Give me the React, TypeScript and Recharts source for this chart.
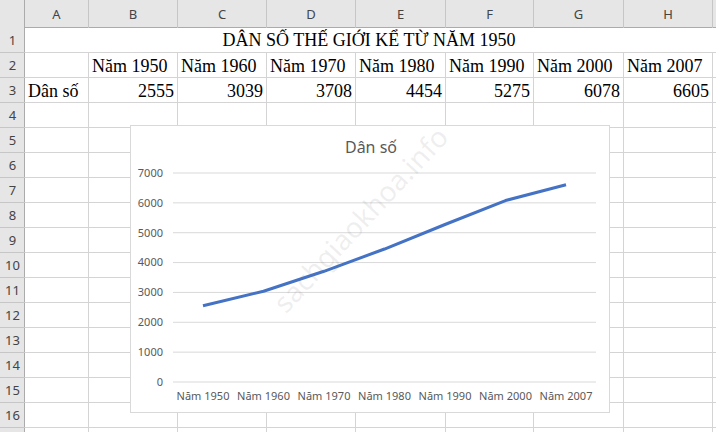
import { LineChart, Line, XAxis, YAxis, CartesianGrid } from "recharts";

const years = ["Năm 1950", "Năm 1960", "Năm 1970", "Năm 1980", "Năm 1990", "Năm 2000", "Năm 2007"];
const population = [2555, 3039, 3708, 4454, 5275, 6078, 6605];
const yTicks = [0, 1000, 2000, 3000, 4000, 5000, 6000, 7000];
const columnLetters = ["A", "B", "C", "D", "E", "F", "G", "H"];
const columnEdges = [25, 89, 178, 267, 356, 446, 534, 624, 713];
const rowNumbers = [1, 2, 3, 4, 5, 6, 7, 8, 9, 10, 11, 12, 13, 14, 15, 16];

const data = years.map((name, i) => ({ name, pop: population[i] }));

const HEADER_H = 28;
const ROW_H = 25;
const ROWNUM_W = 25;
const serif = "'Liberation Serif', 'Times New Roman', serif";
const ui = "'Noto Sans', 'Open Sans', sans-serif";

function Sheet() {
  const cells: any[] = [];
  // column headers
  columnLetters.forEach((c, i) => {
    cells.push(
      <div
        key={"ch" + c}
        style={{
          position: "absolute",
          left: columnEdges[i],
          top: 0,
          width: columnEdges[i + 1] - columnEdges[i],
          height: HEADER_H,
          lineHeight: HEADER_H + "px",
          textAlign: "center",
          fontFamily: ui,
          fontSize: 13,
          color: "#444",
          borderRight: "1px solid #c6c6c6",
          boxSizing: "border-box",
        }}
      >
        {c}
      </div>
    );
  });
  // row numbers and horizontal lines
  rowNumbers.forEach((r, i) => {
    cells.push(
      <div
        key={"rn" + r}
        style={{
          position: "absolute",
          left: 0,
          top: HEADER_H + i * ROW_H,
          width: ROWNUM_W,
          height: ROW_H,
          lineHeight: ROW_H + "px",
          textAlign: "center",
          fontFamily: ui,
          fontSize: 13,
          color: "#444",
          borderBottom: "1px solid #c6c6c6",
          boxSizing: "border-box",
        }}
      >
        {r}
      </div>
    );
    cells.push(
      <div
        key={"hl" + r}
        style={{
          position: "absolute",
          left: ROWNUM_W,
          top: HEADER_H + (i + 1) * ROW_H - 1,
          width: 716 - ROWNUM_W,
          height: 1,
          background: "#d4d4d4",
        }}
      />
    );
  });
  // vertical grid lines
  columnEdges.slice(1).forEach((x, i) => {
    cells.push(
      <div
        key={"vl" + i}
        style={{
          position: "absolute",
          left: x - 1,
          top: HEADER_H,
          width: 1,
          height: 432 - HEADER_H,
          background: "#d4d4d4",
        }}
      />
    );
  });
  const cellText = (key: string, col: number, row: number, text: string, align: "left" | "right") => (
    <div
      key={key}
      style={{
        position: "absolute",
        left: columnEdges[col] + 3,
        top: HEADER_H + (row - 1) * ROW_H + 1,
        width: columnEdges[col + 1] - columnEdges[col] - 7,
        height: ROW_H,
        lineHeight: ROW_H + "px",
        textAlign: align,
        fontFamily: serif,
        fontSize: 18,
        color: "#000",
        whiteSpace: "nowrap",
      }}
    >
      {text}
    </div>
  );
  years.forEach((y, i) => cells.push(cellText("y" + i, i + 1, 2, y, "left")));
  population.forEach((p, i) => cells.push(cellText("p" + i, i + 1, 3, String(p), "right")));
  cells.push(cellText("ds", 0, 3, "Dân số", "left"));
  return (
    <>
      <div
        style={{
          position: "absolute",
          left: 0,
          top: 0,
          width: 716,
          height: HEADER_H,
          background: "#e6e6e6",
          borderBottom: "1px solid #ababab",
          boxSizing: "border-box",
        }}
      />
      <div
        style={{
          position: "absolute",
          left: 0,
          top: 0,
          width: ROWNUM_W,
          height: 432,
          background: "#e6e6e6",
          borderRight: "1px solid #ababab",
          boxSizing: "border-box",
        }}
      />
      {cells}
      <div
        style={{
          position: "absolute",
          left: ROWNUM_W,
          top: HEADER_H,
          width: 713 - ROWNUM_W,
          height: ROW_H - 1,
          background: "#fff",
          lineHeight: ROW_H + "px",
          textAlign: "center",
          fontFamily: serif,
          fontSize: 18,
          color: "#000",
        }}
      >
        DÂN SỐ THẾ GIỚI KỂ TỪ NĂM 1950
      </div>
    </>
  );
}

export default function App() {
  return (
    <div
      style={{
        position: "absolute",
        left: 0,
        top: 0,
        width: 716,
        height: 432,
        overflow: "hidden",
        background: "#fff",
      }}
    >
      <Sheet />
      <div
        style={{
          position: "absolute",
          left: 130,
          top: 125,
          width: 480,
          height: 288,
          background: "#fff",
          border: "1px solid #d9d9d9",
          boxSizing: "border-box",
        }}
      >
        <div
          style={{
            position: "absolute",
            left: 0,
            top: 10,
            width: 480,
            textAlign: "center",
            fontFamily: ui,
            fontSize: 16,
            color: "#595959",
          }}
        >
          Dân số
        </div>
        <div style={{ position: "absolute", left: -1, top: -1 }}>
          <LineChart
            width={480}
            height={288}
            data={data}
            margin={{ top: 48, right: 14, left: 0, bottom: 0 }}
          >
            <CartesianGrid vertical={false} stroke="#d9d9d9" />
            <XAxis
              dataKey="name"
              axisLine={false}
              tickLine={false}
              tickSize={0}
              tickMargin={10}
              height={31}
              interval={0}
              padding={{ left: 30, right: 30 }}
              tick={{ fill: "#595959", fontSize: 11, fontFamily: ui }}
            />
            <YAxis
              domain={[0, 7000]}
              ticks={yTicks}
              axisLine={false}
              tickLine={false}
              tickSize={0}
              tickMargin={10}
              width={43}
              tick={{ fill: "#595959", fontSize: 11, fontFamily: ui }}
            />
            <Line
              type="linear"
              dataKey="pop"
              stroke="#4472c4"
              strokeWidth={3}
              strokeLinejoin="round"
              dot={false}
              isAnimationActive={false}
            />
          </LineChart>
        </div>
      </div>
      <div
        style={{
          position: "absolute",
          left: 215,
          top: 200,
          width: 290,
          textAlign: "center",
          fontFamily: ui,
          fontSize: 28,
          color: "rgba(120,120,120,0.12)",
          transform: "rotate(-47deg)",
          pointerEvents: "none",
        }}
      >
        sachgiaokhoa.info
      </div>
    </div>
  );
}
